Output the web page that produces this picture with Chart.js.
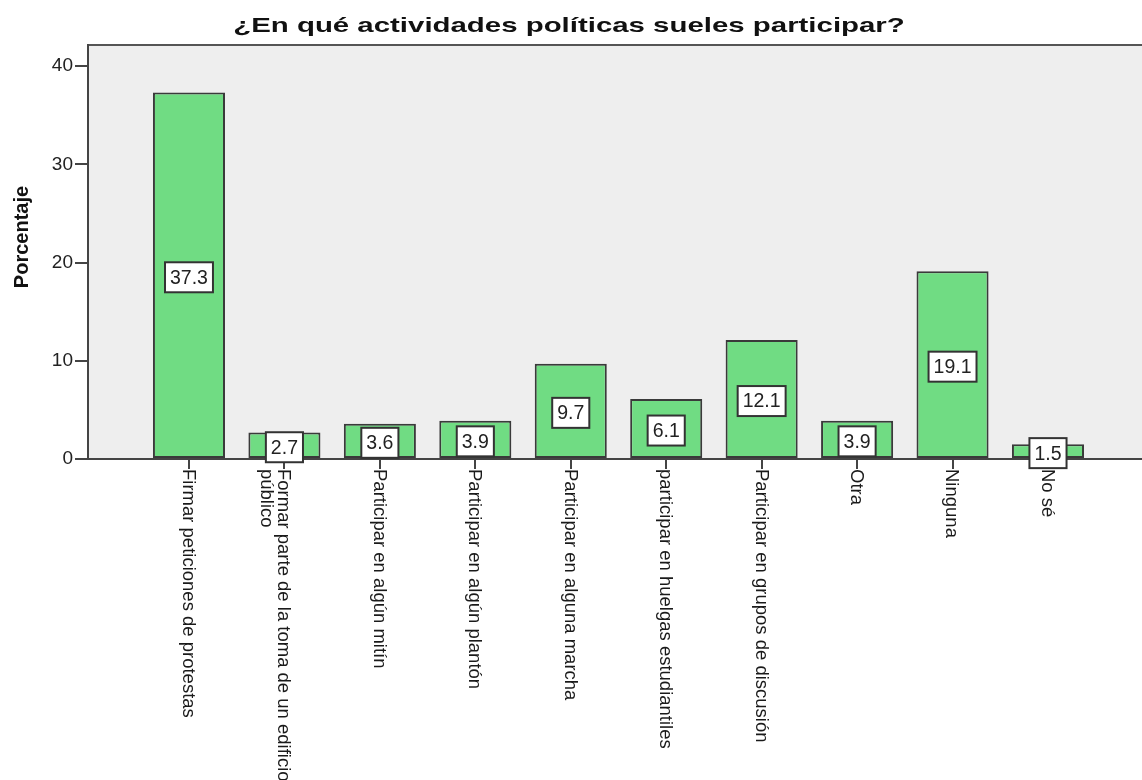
<!DOCTYPE html>
<html>
<head>
<meta charset="utf-8">
<script src="https://cdn.jsdelivr.net/npm/chart.js@4/dist/chart.umd.min.js"></script>
<style>
html,body{margin:0;padding:0;background:#fff;}
#wrap{width:1142px;height:780px;}
</style>
</head>
<body>
<div id="wrap"><canvas id="c" width="1142" height="780"></canvas></div>
<script>
const chartTitle = '¿En qué actividades políticas sueles participar?';
const yAxisTitle = 'Porcentaje';
const categories = [
  ['Firmar peticiones de protestas'],
  ['Formar parte de la toma de un edificio', 'público'],
  ['Participar en algún mitín'],
  ['Participar en algún plantón'],
  ['Participar en alguna marcha'],
  ['participar en huelgas estudiantiles'],
  ['Participar en grupos de discusión'],
  ['Otra'],
  ['Ninguna'],
  ['No sé']
];
const percentages = [37.3, 2.7, 3.6, 3.9, 9.7, 6.1, 12.1, 3.9, 19.1, 1.5];
const yTicks = [0, 10, 20, 30, 40];

const FONT = '"Liberation Sans", Arial, sans-serif';
const AXIS_COLOR = '#444444';

const decor = {
  id: 'decor',
  beforeDraw(chart) {
    const {ctx, chartArea: a} = chart;
    ctx.save();
    ctx.fillStyle = '#EEEEEE';
    ctx.fillRect(a.left, a.top, a.right - a.left, a.bottom - a.top);
    ctx.strokeStyle = '#555555';
    ctx.lineWidth = 2;
    ctx.beginPath();
    ctx.moveTo(a.left, a.top);
    ctx.lineTo(a.right, a.top);
    ctx.stroke();
    ctx.restore();
  },
  afterDatasetsDraw(chart) {
    const {ctx} = chart;
    const meta = chart.getDatasetMeta(0);
    ctx.save();
    ctx.font = '19.5px ' + FONT;
    ctx.textAlign = 'center';
    ctx.textBaseline = 'middle';
    meta.data.forEach((bar, i) => {
      const txt = percentages[i].toFixed(1);
      const w = ctx.measureText(txt).width + 10;
      const h = 30;
      const cx = bar.x;
      const cy = (bar.y + bar.base) / 2 + 2;
      ctx.fillStyle = '#FFFFFF';
      ctx.fillRect(cx - w / 2, cy - h / 2, w, h);
      ctx.strokeStyle = '#333333';
      ctx.lineWidth = 2;
      ctx.strokeRect(cx - w / 2, cy - h / 2, w, h);
      ctx.fillStyle = '#222222';
      ctx.fillText(txt, cx, cy + 1);
    });
    ctx.restore();
  },
  afterDraw(chart) {
    const {ctx, chartArea: a} = chart;
    const xs = chart.scales.x;
    ctx.save();
    ctx.font = '18.5px ' + FONT;
    ctx.fillStyle = '#1a1a1a';
    ctx.textAlign = 'left';
    ctx.textBaseline = 'middle';
    const lh = 17;
    categories.forEach((lines, i) => {
      const x = xs.getPixelForValue(i);
      ctx.save();
      ctx.translate(x - 1, a.bottom + 10);
      ctx.rotate(Math.PI / 2);
      lines.forEach((ln, j) => ctx.fillText(ln, 0, j * lh));
      ctx.restore();
    });
    ctx.save();
    ctx.font = 'bold 20px ' + FONT;
    ctx.fillStyle = '#111111';
    ctx.textAlign = 'center';
    ctx.textBaseline = 'middle';
    ctx.translate(22, 237);
    ctx.rotate(-Math.PI / 2);
    ctx.fillText(yAxisTitle, 0, 0);
    ctx.restore();
    ctx.save();
    ctx.font = 'bold 21px ' + FONT;
    ctx.fillStyle = '#111111';
    ctx.textAlign = 'center';
    ctx.textBaseline = 'alphabetic';
    ctx.translate(569, 32);
    ctx.scale(1.4, 1);
    ctx.fillText(chartTitle, 0, 0);
    ctx.restore();
    ctx.restore();
  }
};

new Chart(document.getElementById('c'), {
  type: 'bar',
  data: {
    datasets: [{
      label: yAxisTitle,
      data: percentages.map((v, i) => ({x: i, y: v})),
      backgroundColor: '#70DC83',
      borderColor: '#3a3a3a',
      borderWidth: 2,
      borderSkipped: false,
      barPercentage: 0.755,
      categoryPercentage: 1.0
    }]
  },
  options: {
    responsive: false,
    animation: false,
    devicePixelRatio: 1,
    layout: {padding: {top: 45, left: 0, right: 0, bottom: 0}},
    plugins: {
      legend: {display: false},
      title: {display: false},
      tooltip: {enabled: false}
    },
    scales: {
      x: {
        type: 'linear',
        offset: false,
        min: -1.058,
        max: 9.985,
        afterBuildTicks(scale) { scale.ticks = categories.map((_, i) => ({value: i})); },
        afterFit(scale) { scale.height = 321; },
        ticks: {display: false},
        grid: {offset: false, drawOnChartArea: false, drawTicks: true, tickLength: 10, color: AXIS_COLOR, lineWidth: 2},
        border: {display: true, color: AXIS_COLOR, width: 2}
      },
      y: {
        min: 0,
        max: 42.14,
        afterBuildTicks(scale) { scale.ticks = yTicks.map(v => ({value: v})); },
        afterFit(scale) { scale.width = 88; },
        ticks: {font: {family: FONT, size: 19}, color: '#222222', padding: 2},
        grid: {drawOnChartArea: false, drawTicks: true, tickLength: 13, color: AXIS_COLOR, lineWidth: 2},
        border: {display: true, color: AXIS_COLOR, width: 2}
      }
    }
  },
  plugins: [decor]
});
</script>
</body>
</html>
